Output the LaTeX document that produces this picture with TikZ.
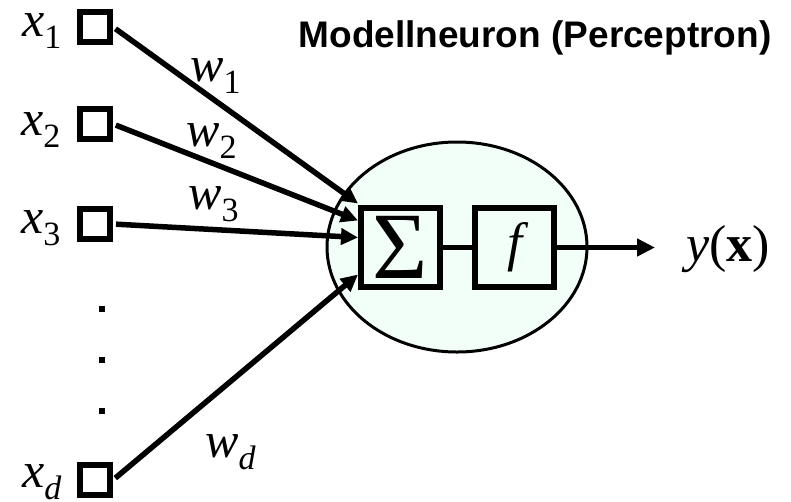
\documentclass[tikz,border=0pt]{standalone}
\usepackage{fontspec}
\setmainfont{Liberation Serif}[ItalicFont={Liberation Serif Italic},BoldFont={Liberation Serif Bold}]
\setsansfont{Liberation Sans}
\usetikzlibrary{arrows.meta,shapes.geometric}
\definecolor{cellfill}{HTML}{F2FFF8}
\newcommand\lblsub[2]{\textit{#1}\raisebox{-12pt}{\fontsize{34}{40}\selectfont #2}}
\begin{document}
\begin{tikzpicture}[x=1pt,y=-1pt,
  inbox/.style={draw, line width=6pt, minimum size=30pt, inner sep=0pt},
  opbox/.style={draw, line width=6pt, minimum size=79pt, inner sep=0pt, fill=cellfill},
  wire/.style={line width=5pt},
  arr/.style={line width=5.5pt, -{Triangle[length=17pt,width=16pt]}},
  lab/.style={anchor=base west, inner sep=0pt, font=\fontsize{50}{60}\selectfont},
  dotsq/.style={fill=black},
]
\useasboundingbox (0,0) rectangle (791,501);
% neuron body
\node[ellipse, draw, line width=3pt, fill=cellfill, minimum width=260pt, minimum height=210pt, inner sep=0pt] (cell) at (457,247) {};
% operation boxes
\node[opbox, font=\fontsize{95}{100}\selectfont] (sig) at (400.5,247.5) {Σ};
\node[opbox, font=\fontsize{54}{60}\selectfont\itshape] (fb) at (514.5,247.5) {f};
\draw[wire] (sig.east) -- (fb.west);
% inputs
\node[inbox] (b1) at (95,27) {};
\node[inbox] (b2) at (95,124) {};
\node[inbox] (b3) at (95,224) {};
\node[inbox] (bd) at (95,480) {};
\fill[dotsq] (98.5,306) rectangle ++(6,6);
\fill[dotsq] (98.5,357) rectangle ++(6,6);
\fill[dotsq] (98.5,408) rectangle ++(6,6);
% input labels
\node[lab] (lx1) at (22,36) {\lblsub{x}{1}};
\node[lab] (lx2) at (21,135) {\lblsub{x}{2}};
\node[lab] (lx3) at (21,233) {\lblsub{x}{3}};
\node[lab] (lxd) at (22,487) {\lblsub{x}{\textit{d}}};
% weighted connections
\draw[arr, shorten <=3pt] (b1.east) -- ([yshift=44pt]sig.west);
\draw[arr, shorten <=3pt] (b2.east) -- ([yshift=27pt]sig.west);
\draw[arr, shorten <=3pt] (b3.east) -- ([yshift=10pt]sig.west);
\draw[arr, shorten <=3pt] (bd.east) -- ([yshift=-27pt]sig.west);
\node[lab] (lw1) at (190,81) {\lblsub{w}{1}};
\node[lab] (lw2) at (186,146) {\lblsub{w}{2}};
\node[lab] (lw3) at (188,209) {\lblsub{w}{3}};
\node[lab] (lwd) at (205,457) {\lblsub{w}{\textit{d}}};
% output
\coordinate (yout) at (655,247.5);
\draw[line width=5pt, -{Triangle[length=18pt,width=17pt]}] (fb.east) -- (yout);
\node[lab, font=\fontsize{52}{60}\selectfont] (ylab) at (686,261) {\textit{y}(\textbf{x})};
% title
\node[anchor=base, inner sep=0pt, font=\sffamily\bfseries\fontsize{37}{42}\selectfont] (title) at (535,47) {Modellneuron (Perceptron)};
\end{tikzpicture}
\end{document}
